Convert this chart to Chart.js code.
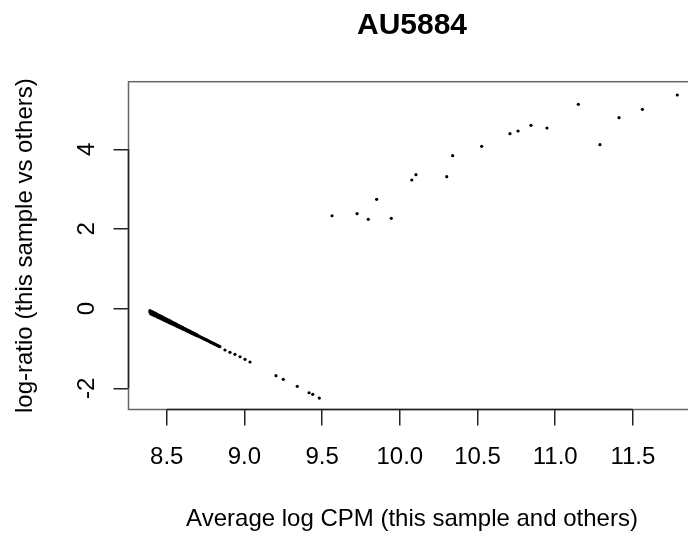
<!DOCTYPE html>
<html>
<head>
<meta charset="utf-8">
<script src="https://cdn.jsdelivr.net/npm/chart.js@4.4.1/dist/chart.umd.min.js"></script>
<style>
html,body{margin:0;padding:0;background:#fff;overflow:hidden;width:688px;height:533px}
#wrap{position:relative;width:720px;height:533px}
canvas{display:block}
</style>
</head>
<body>
<div id="wrap"><canvas id="c" width="720" height="533"></canvas></div>
<script>
// ---- chart text ----
const titleText = "AU5884";
const xAxisLabel = "Average log CPM (this sample and others)";
const yAxisLabel = "log-ratio (this sample vs others)";

// ---- ticks ----
const xTicks = [8.5, 9.0, 9.5, 10.0, 10.5, 11.0, 11.5];
const xTickLabels = ["8.5", "9.0", "9.5", "10.0", "10.5", "11.0", "11.5"];
const yTicks = [-2, 0, 2, 4];
const yTickLabels = ["-2", "0", "2", "4"];

// ---- data: dense diagonal band, centre row (A = average log CPM, M = log-ratio) ----
const bandA = [8.392, 8.397, 8.402, 8.407, 8.412, 8.417, 8.422, 8.427, 8.432, 8.437,
               8.442, 8.447, 8.452, 8.457, 8.462, 8.467, 8.472, 8.477, 8.482, 8.487,
               8.492, 8.497, 8.502, 8.507, 8.512, 8.517, 8.522, 8.527, 8.532, 8.537,
               8.542, 8.547, 8.552, 8.557, 8.562, 8.567, 8.572, 8.577, 8.582, 8.587,
               8.592, 8.597, 8.602, 8.607, 8.612, 8.617, 8.622, 8.627, 8.632, 8.637,
               8.642, 8.647, 8.652, 8.657, 8.662, 8.667, 8.672, 8.677, 8.682, 8.687,
               8.692, 8.697, 8.702, 8.707, 8.712, 8.717, 8.722, 8.727, 8.732, 8.737,
               8.742, 8.747, 8.752, 8.757, 8.762, 8.767, 8.772, 8.777, 8.782, 8.787,
               8.792, 8.797, 8.802, 8.807, 8.812, 8.817, 8.822, 8.827, 8.832, 8.837, 8.842];
const bandM = [-0.084, -0.094, -0.103, -0.113, -0.123, -0.132, -0.142, -0.152, -0.161, -0.171,
               -0.181, -0.190, -0.200, -0.210, -0.220, -0.229, -0.239, -0.249, -0.258, -0.268,
               -0.278, -0.287, -0.297, -0.307, -0.316, -0.326, -0.336, -0.345, -0.355, -0.365,
               -0.374, -0.384, -0.394, -0.403, -0.413, -0.423, -0.432, -0.442, -0.452, -0.462,
               -0.471, -0.481, -0.491, -0.500, -0.510, -0.520, -0.529, -0.539, -0.549, -0.558,
               -0.568, -0.578, -0.587, -0.597, -0.607, -0.616, -0.626, -0.636, -0.645, -0.655,
               -0.665, -0.674, -0.684, -0.694, -0.703, -0.713, -0.723, -0.732, -0.742, -0.752,
               -0.762, -0.771, -0.781, -0.791, -0.800, -0.810, -0.820, -0.829, -0.839, -0.849,
               -0.858, -0.868, -0.878, -0.887, -0.897, -0.907, -0.916, -0.926, -0.936, -0.945, -0.955];

// ---- dense band, upper edge (band is thickest at the left) ----
const bandUpperA = [8.392, 8.402, 8.412, 8.422, 8.432, 8.442, 8.452, 8.462, 8.472, 8.482,
                    8.492, 8.502, 8.512, 8.522, 8.532, 8.542, 8.552, 8.562, 8.572, 8.582,
                    8.592, 8.602, 8.612, 8.622, 8.632, 8.642, 8.652, 8.662, 8.672, 8.682, 8.692];
const bandUpperM = [-0.047, -0.067, -0.088, -0.108, -0.128, -0.148, -0.169, -0.189, -0.209, -0.229,
                    -0.250, -0.270, -0.290, -0.310, -0.331, -0.351, -0.371, -0.391, -0.412, -0.432,
                    -0.452, -0.472, -0.493, -0.513, -0.533, -0.554, -0.574, -0.594, -0.614, -0.635, -0.655];

// ---- dense band, lower edge ----
const bandLowerA = [8.397, 8.407, 8.417, 8.427, 8.437, 8.447, 8.457, 8.467, 8.477, 8.487,
                    8.497, 8.507, 8.517, 8.527, 8.537, 8.547, 8.557, 8.567, 8.577, 8.587,
                    8.597, 8.607, 8.617, 8.627, 8.637, 8.647, 8.657, 8.667, 8.677, 8.687, 8.697];
const bandLowerM = [-0.131, -0.149, -0.168, -0.186, -0.205, -0.223, -0.241, -0.260, -0.278, -0.297,
                    -0.315, -0.334, -0.352, -0.371, -0.389, -0.408, -0.426, -0.445, -0.463, -0.481,
                    -0.500, -0.518, -0.537, -0.555, -0.574, -0.592, -0.611, -0.629, -0.648, -0.666, -0.684];

// ---- data: sparse tail of the band ----
const tailA = [8.875, 8.907, 8.939, 8.972, 9.004, 9.036, 9.203, 9.250, 9.340, 9.416, 9.440, 9.482];
const tailM = [-1.039, -1.097, -1.147, -1.208, -1.273, -1.341, -1.685, -1.775, -1.951, -2.112, -2.152, -2.245];

// ---- data: upper cloud ----
const upperA = [9.564, 9.725, 9.797, 9.851, 9.945, 10.077, 10.104, 10.302, 10.340, 10.527,
                10.709, 10.761, 10.844, 10.947, 11.149, 11.288, 11.411, 11.561, 11.786];
const upperM = [2.332, 2.383, 2.242, 2.744, 2.267, 3.229, 3.362, 3.312, 3.839, 4.075,
                4.391, 4.459, 4.602, 4.534, 5.129, 4.115, 4.793, 5.004, 5.363];

const allA = bandA.concat(bandUpperA, bandLowerA, tailA, upperA);
const allM = bandM.concat(bandUpperM, bandLowerM, tailM, upperM);
const points = allA.map((a, i) => ({x: a, y: allM[i]}));

const FONT = '"Liberation Sans", Arial, Helvetica, sans-serif';

const rPlot = {
  id: 'rPlot',
  afterDraw(chart) {
    const {ctx, chartArea: a, scales: {x, y}} = chart;
    ctx.save();
    // plot box
    ctx.strokeStyle = '#666';
    ctx.lineWidth = 1.5;
    ctx.strokeRect(a.left, a.top, a.right - a.left, a.bottom - a.top);
    // axis lines spanning first..last tick
    ctx.strokeStyle = '#222';
    ctx.beginPath();
    ctx.moveTo(x.getPixelForValue(xTicks[0]), a.bottom);
    ctx.lineTo(x.getPixelForValue(xTicks[xTicks.length - 1]), a.bottom);
    ctx.moveTo(a.left, y.getPixelForValue(yTicks[0]));
    ctx.lineTo(a.left, y.getPixelForValue(yTicks[yTicks.length - 1]));
    ctx.stroke();
    // y tick labels (rotated, R style)
    ctx.fillStyle = '#000';
    ctx.font = '24px ' + FONT;
    ctx.textAlign = 'center';
    ctx.textBaseline = 'alphabetic';
    yTicks.forEach((v, i) => {
      const py = y.getPixelForValue(v);
      ctx.save();
      ctx.translate(a.left - 35, py);
      ctx.rotate(-Math.PI / 2);
      ctx.fillText(yTickLabels[i], 0, 0);
      ctx.restore();
    });
    // y axis title
    ctx.save();
    ctx.translate(a.left - 97, (a.top + a.bottom) / 2);
    ctx.rotate(-Math.PI / 2);
    ctx.fillText(yAxisLabel, 0, 0);
    ctx.restore();
    // x axis title
    ctx.fillText(xAxisLabel, (a.left + a.right) / 2, a.bottom + 116.5);
    // main title
    ctx.font = 'bold 30px ' + FONT;
    ctx.fillText(titleText, (a.left + a.right) / 2, a.top - 47.7);
    ctx.restore();
  }
};

new Chart(document.getElementById('c'), {
  type: 'scatter',
  data: {
    datasets: [{
      data: points,
      backgroundColor: '#000',
      borderWidth: 0,
      pointRadius: 1.6,
      pointHoverRadius: 1.6
    }]
  },
  options: {
    responsive: false,
    animation: false,
    devicePixelRatio: 1,
    layout: {padding: {left: 0, right: 24.5, top: 81.7, bottom: 0}},
    plugins: {legend: {display: false}, tooltip: {enabled: false}, title: {display: false}},
    scales: {
      x: {
        type: 'linear',
        min: 8.254,
        max: 11.903,
        afterBuildTicks: s => { s.ticks = xTicks.map(v => ({value: v})); },
        afterFit: s => { s.height = 123.5; },
        grid: {display: true, drawOnChartArea: false, drawTicks: true, tickLength: 16, color: '#222', lineWidth: 1.5},
        border: {display: false},
        ticks: {
          autoSkip: false, maxRotation: 0, minRotation: 0, padding: 17,
          color: '#000', font: {size: 24, family: FONT},
          callback: (v, i) => xTickLabels[i]
        }
      },
      y: {
        type: 'linear',
        min: -2.533,
        max: 5.697,
        afterBuildTicks: s => { s.ticks = yTicks.map(v => ({value: v})); },
        afterFit: s => { s.width = 128.5; },
        grid: {display: true, drawOnChartArea: false, drawTicks: true, tickLength: 15, color: '#222', lineWidth: 1.5},
        border: {display: false},
        ticks: {display: false}
      }
    }
  },
  plugins: [rPlot]
});
</script>
</body>
</html>
